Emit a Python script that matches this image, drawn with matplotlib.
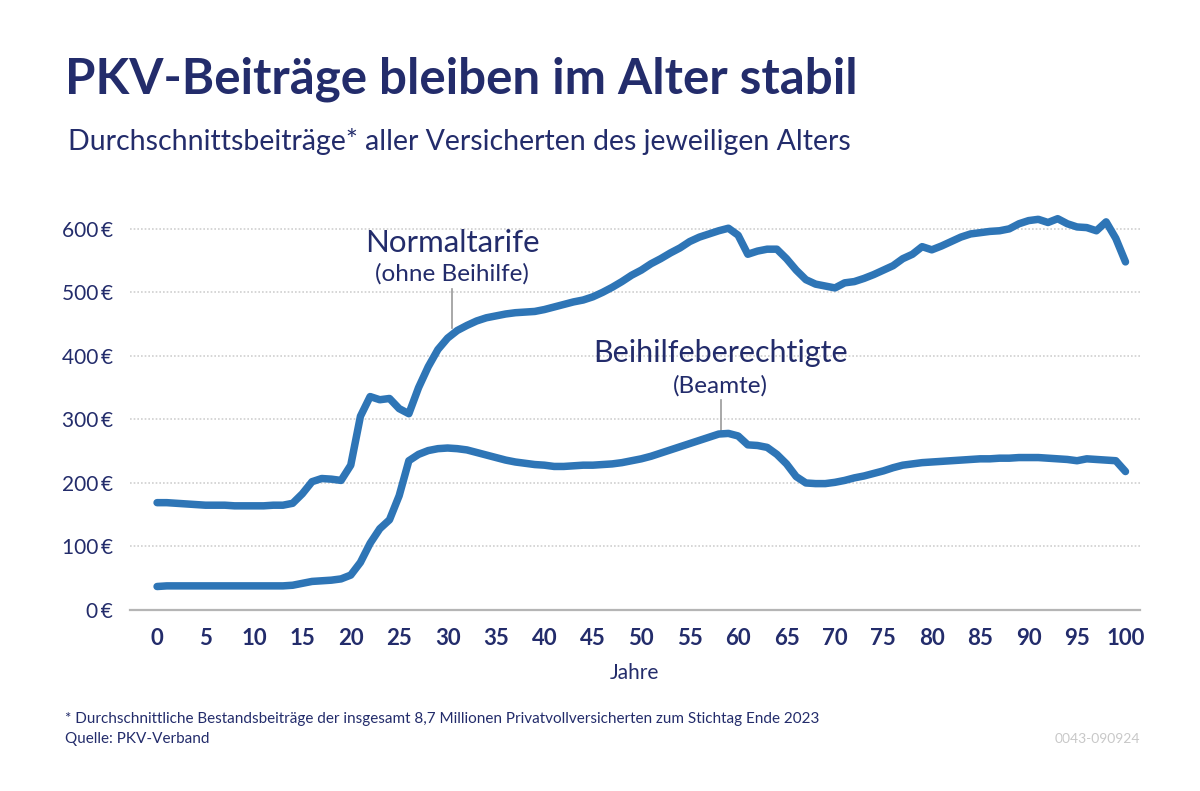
"""PKV-Beiträge nach Alter — Normaltarife vs. Beihilfeberechtigte."""

import matplotlib
matplotlib.use("Agg")
import matplotlib.pyplot as plt

NAVY  = "#232c6b"
BLUE  = "#2e75b6"
GRID  = "#cfcfcf"
AXIS  = "#b5b5b5"
LIGHT = "#c8c8c8"
FONT  = "Lato"

ages = list(range(0, 101))

normaltarif = [
    169, 169, 168, 167, 166, 165, 165, 165, 164, 164,   # 0-9
    164, 164, 165, 165, 168, 183, 202, 207, 206, 204,   # 10-19
    228, 305, 336, 331, 333, 317, 309, 350, 383, 410,   # 20-29
    428, 440, 448, 455, 460, 463, 466, 468, 469, 470,   # 30-39
    473, 477, 481, 485, 488, 493, 500, 508, 517, 527,   # 40-49
    535, 545, 553, 562, 570, 580, 587, 592, 597, 601,   # 50-59
    590, 560, 565, 568, 568, 553, 535, 520, 513, 510,   # 60-69
    507, 515, 517, 522, 528, 535, 542, 553, 560, 572,   # 70-79
    567, 573, 580, 587, 592, 594, 596, 597, 600, 608,   # 80-89
    613, 615, 610, 616, 608, 603, 602, 597, 611, 585,   # 90-99
    548,
]

beihilfe = [
    37, 38, 38, 38, 38, 38, 38, 38, 38, 38,             # 0-9
    38, 38, 38, 38, 39, 42, 45, 46, 47, 49,             # 10-19
    55, 75, 105, 128, 142, 180, 235, 245, 251, 254,     # 20-29
    255, 254, 252, 248, 244, 240, 236, 233, 231, 229,   # 30-39
    228, 226, 226, 227, 228, 228, 229, 230, 232, 235,   # 40-49
    238, 242, 247, 252, 257, 262, 267, 272, 277, 278,   # 50-59
    274, 260, 259, 256, 245, 230, 210, 200, 199, 199,   # 60-69
    201, 204, 208, 211, 215, 219, 224, 228, 230, 232,   # 70-79
    233, 234, 235, 236, 237, 238, 238, 239, 239, 240,   # 80-89
    240, 240, 239, 238, 237, 235, 238, 237, 236, 235,   # 90-99
    218,
]

y_ticks  = [0, 100, 200, 300, 400, 500, 600]
x_ticks  = list(range(0, 101, 5))

fig = plt.figure(figsize=(12, 7.91), dpi=100)
fig.patch.set_facecolor("white")
ax = fig.add_axes([0.1083, 0.2288, 0.8417, 0.514])

ax.plot(ages, normaltarif, color=BLUE, lw=5.4, solid_capstyle="round",
        solid_joinstyle="round", zorder=3, clip_on=False)
ax.plot(ages, beihilfe, color=BLUE, lw=5.4, solid_capstyle="round",
        solid_joinstyle="round", zorder=3, clip_on=False)

ax.set_xlim(-2.8, 101.5)
ax.set_ylim(0, 640)

ax.set_yticks(y_ticks)
ax.set_yticklabels([f"{v}\u2009€" for v in y_ticks], fontfamily=FONT,
                   fontsize=15, color=NAVY)
ax.set_xticks(x_ticks)
ax.set_xticklabels([str(v) for v in x_ticks], fontfamily=FONT,
                   fontsize=16, color=NAVY, fontweight="bold")
ax.tick_params(axis="both", length=0)
ax.tick_params(axis="y", pad=12)
ax.tick_params(axis="x", pad=13)

for v in y_ticks[1:]:
    ax.axhline(v, color=GRID, lw=1.2, ls=(0, (1, 1.2)), zorder=1)

for sp in ["top", "right", "left"]:
    ax.spines[sp].set_visible(False)
ax.spines["bottom"].set_color(AXIS)
ax.spines["bottom"].set_linewidth(1.6)

ax.set_xlabel("Jahre", fontfamily=FONT, fontsize=15, color=NAVY, labelpad=10)

# Series labels with leader lines
ax.text(30.5, 564, "Normaltarife", ha="center", va="baseline",
        fontfamily=FONT, fontsize=22.5, color=NAVY)
ax.text(30.5, 518, "(ohne Beihilfe)", ha="center", va="baseline",
        fontfamily=FONT, fontsize=17.5, color=NAVY)
ax.plot([30.5, 30.5], [505, 444], color="#9a9a9a", lw=1.2, zorder=2)

ax.text(58.2, 390, "Beihilfeberechtigte", ha="center", va="baseline",
        fontfamily=FONT, fontsize=22, color=NAVY)
ax.text(58.2, 342, "(Beamte)", ha="center", va="baseline",
        fontfamily=FONT, fontsize=17.5, color=NAVY)
ax.plot([58.2, 58.2], [330, 281], color="#9a9a9a", lw=1.2, zorder=2)

# Titles
fig.text(65 / 1200, 1 - 94 / 791, "PKV-Beiträge bleiben im Alter stabil",
         fontfamily=FONT, fontsize=35.5, fontweight="bold", color=NAVY,
         va="baseline")
fig.text(68 / 1200, 1 - 150 / 791,
         "Durchschnittsbeiträge* aller Versicherten des jeweiligen Alters",
         fontfamily=FONT, fontsize=20.5, color=NAVY, va="baseline")

# Footer
fig.text(65 / 1200, 1 - 723 / 791,
         "* Durchschnittliche Bestandsbeiträge der insgesamt 8,7 Millionen "
         "Privatvollversicherten zum Stichtag Ende 2023",
         fontfamily=FONT, fontsize=11, color=NAVY, va="baseline")
fig.text(65 / 1200, 1 - 743 / 791, "Quelle: PKV-Verband",
         fontfamily=FONT, fontsize=11, color=NAVY, va="baseline")
fig.text(1140 / 1200, 1 - 743 / 791, "0043-090924",
         fontfamily=FONT, fontsize=10, color=LIGHT, va="baseline", ha="right")

fig.savefig("out.png", dpi=100, facecolor="white")
plt.close()
